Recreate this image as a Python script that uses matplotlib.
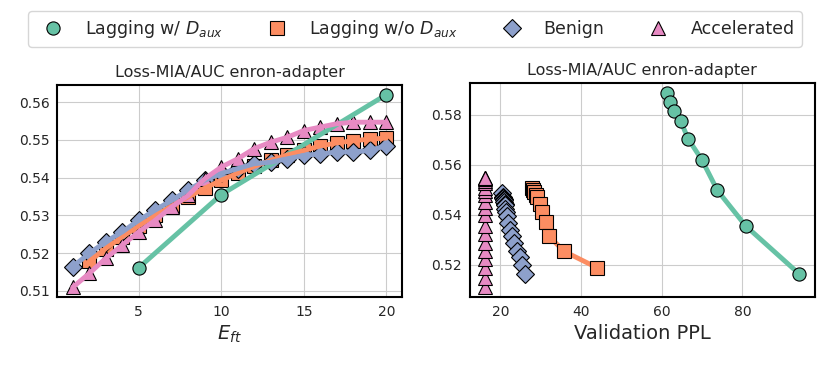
import matplotlib
matplotlib.use('Agg')
import matplotlib.pyplot as plt
import seaborn as sns

sns.set_style('whitegrid')
plt.rcParams['font.family'] = ['DejaVu Sans']

# colours (Set2)
clrs = sns.color_palette('Set2', 4)

# ---------------- left panel: AUC vs E_ft ----------------
ep_lag = [5, 10, 20]
auc_lag = [0.5161, 0.5355, 0.5620]

ep_nodaux = [2, 3, 4, 5, 6, 7, 8, 9, 10, 11, 12, 13, 14, 15, 16, 17, 18, 19, 20]
auc_nodaux = [0.5178, 0.5212, 0.5243, 0.5272, 0.5300, 0.5325, 0.5349, 0.5372, 0.5393,
              0.5412, 0.5430, 0.5446, 0.5460, 0.5472, 0.5484, 0.5492, 0.5498, 0.5502, 0.5505]

ep_all = [1, 2, 3, 4, 5, 6, 7, 8, 9, 10, 11, 12, 13, 14, 15, 16, 17, 18, 19, 20]
auc_benign = [0.5164, 0.5199, 0.5230, 0.5256, 0.5287, 0.5314, 0.5340, 0.5367, 0.5393, 0.5411,
              0.5424, 0.5437, 0.5441, 0.5450, 0.5459, 0.5463, 0.5468, 0.5468, 0.5472, 0.5485]
auc_accel = [0.5109, 0.5146, 0.5186, 0.5221, 0.5256, 0.5287, 0.5322, 0.5353, 0.5397, 0.5428,
             0.5450, 0.5477, 0.5494, 0.5507, 0.5525, 0.5534, 0.5543, 0.5547, 0.5547, 0.5547]

# ---------------- right panel: AUC vs validation PPL ----------------
ppl_lag = [61.4, 62.0, 63.0, 64.7, 66.6, 69.9, 73.8, 80.8, 94.1]
auc_lag_r = [0.5888, 0.5852, 0.5814, 0.5774, 0.5702, 0.5621, 0.5497, 0.5355, 0.5162]

ppl_nodaux = [27.8, 28.1, 28.4, 28.8, 29.1, 29.8, 30.3, 31.2, 32.0, 35.7, 44.0]
auc_nodaux_r = [0.5507, 0.5500, 0.5490, 0.5480, 0.5470, 0.5443, 0.5409, 0.5369, 0.5315, 0.5254, 0.5187]

ppl_benign = [20.4, 20.6, 20.65, 20.7, 20.8, 20.85, 20.95, 21.05, 21.1, 21.25,
              21.4, 21.65, 22.0, 22.35, 22.8, 23.4, 24.1, 24.8, 25.4, 26.0]
auc_benign_r = [0.5485, 0.5472, 0.5468, 0.5468, 0.5463, 0.5459, 0.5450, 0.5441, 0.5437, 0.5424,
                0.5411, 0.5393, 0.5367, 0.5340, 0.5314, 0.5287, 0.5256, 0.5230, 0.5199, 0.5164]

ppl_accel = [16.3, 16.3, 16.3, 16.3, 16.3, 16.3, 16.3, 16.3, 16.3, 16.3,
             16.3, 16.3, 16.3, 16.3, 16.3, 16.3, 16.3, 16.3, 16.3, 16.3]
auc_accel_r = auc_accel

labels = ['Lagging w/ $D_{aux}$', 'Lagging w/o $D_{aux}$', 'Benign', 'Accelerated']
markers = ['o', 's', 'D', '^']

fig = plt.figure(figsize=(8.3, 3.65), dpi=100)
ax = fig.add_axes([0.0687, 0.1863, 0.4156, 0.5807])
ax2 = fig.add_axes([0.566, 0.1863, 0.416, 0.5857])

left_data = [(ep_lag, auc_lag), (ep_nodaux, auc_nodaux), (ep_all, auc_benign), (ep_all, auc_accel)]
right_data = [(ppl_lag, auc_lag_r), (ppl_nodaux, auc_nodaux_r), (ppl_benign, auc_benign_r), (ppl_accel, auc_accel_r)]

mk = dict(ms=9.5, mec='black', mew=0.8)

# left: markers first, the curves drawn over them (green circles stay on top)
for i in range(4):
    ax.plot(left_data[i][0], left_data[i][1], ls='', marker=markers[i], color=clrs[i],
            zorder=4 if i == 0 else 2, **mk)
for i in range(4):
    ax.plot(left_data[i][0], left_data[i][1], color=clrs[i], lw=3.5, zorder=3,
            solid_capstyle='round')

# right: plain line + markers
for i in range(4):
    ax2.plot(right_data[i][0], right_data[i][1], marker=markers[i], color=clrs[i], lw=3.5, **mk)

ax.set_xticks([5, 10, 15, 20])
ax.set_yticks([0.51, 0.52, 0.53, 0.54, 0.55, 0.56])
ax.set_xlabel('$E_{ft}$', fontsize=14)
ax2.set_xticks([20, 40, 60, 80])
ax2.set_yticks([0.52, 0.54, 0.56, 0.58])
ax2.set_xlabel('Validation PPL', fontsize=14)

for a in [ax, ax2]:
    a.set_title('Loss-MIA/AUC enron-adapter', fontsize=11.5)
    a.tick_params(labelsize=10, pad=2)
    for s in a.spines.values():
        s.set_color('black')
        s.set_linewidth(1.5)

handles = [plt.Line2D([], [], ls='', marker=markers[i], color=clrs[i], **mk) for i in range(4)]
fig.legend(handles, labels, loc='center', bbox_to_anchor=(0.5, 0.9205), ncol=4,
           fontsize=12.5, frameon=True, columnspacing=2.1, handletextpad=0.85)

fig.savefig('out.png', dpi=100)
